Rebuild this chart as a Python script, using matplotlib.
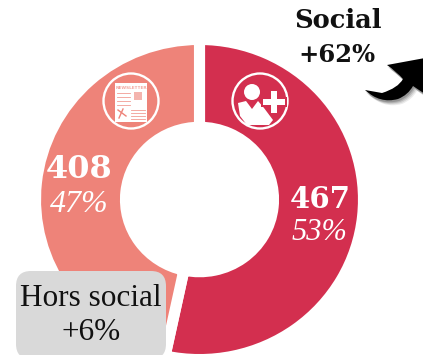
import matplotlib
matplotlib.use("Agg")
import matplotlib.pyplot as plt
from matplotlib.patches import Circle, FancyBboxPatch, PathPatch, Polygon, Rectangle
from matplotlib.path import Path

W, H = 423, 355
SERIF = "Liberation Serif"
SERIF_BOLD = "DejaVu Serif"

# data
categories = ["Social", "Hors social"]
values = [467, 408]
shares = ["53%", "47%"]
growth = ["+62%", "+6%"]
colors = ["#d32f4f", "#ee8379"]


def y_(y):
    # picture coordinates run downwards
    return H - y


def draw_newsletter(ax):
    ax.add_patch(Circle((131, y_(101)), 27.5, fc="none", ec="white", lw=1.7))
    ax.add_patch(Rectangle((115, y_(122)), 32, 39, fc="white", ec="none"))
    ax.text(131, y_(88), "NEWSLETTER", fontsize=3.1, fontweight="bold", color=colors[1],
            ha="center", va="center", family="DejaVu Sans", alpha=0.7)
    for y in (93, 97, 101, 105):
        ax.plot([117, 130], [y_(y), y_(y)], color=colors[1], lw=0.6, alpha=0.8)
    ax.add_patch(Rectangle((134, y_(100)), 8, 8, fc=colors[1], ec="none", alpha=0.6))
    for y in (110, 113, 116, 119):
        ax.plot([131, 145], [y_(y), y_(y)], color=colors[1], lw=0.6, alpha=0.8)
    ax.plot([118, 126], [y_(110), y_(116)], color=colors[1], lw=1)
    ax.plot([119, 123], [y_(118), y_(109)], color=colors[1], lw=1)


def draw_person(ax):
    ax.add_patch(Circle((260, y_(101)), 27.5, fc="none", ec="white", lw=1.7))
    ax.add_patch(Circle((252, y_(92)), 8, fc="white", ec="none"))
    body = [(238, 103), (246, 101), (252, 109), (258, 101), (264, 108), (273, 120),
            (269, 125), (247, 125), (240, 116)]
    ax.add_patch(Polygon([(x, y_(y)) for x, y in body], fc="white", ec="none"))
    ax.add_patch(Rectangle((269, y_(115)), 10, 26, fc=colors[0], ec="none"))
    ax.add_patch(Rectangle((261, y_(107)), 26, 10, fc=colors[0], ec="none"))
    ax.add_patch(Rectangle((271, y_(113)), 6, 22, fc="white", ec="none"))
    ax.add_patch(Rectangle((263, y_(105)), 22, 6, fc="white", ec="none"))


def arrow_path(dx=0, dy=0):
    codes = [Path.MOVETO, Path.CURVE3, Path.CURVE3, Path.CURVE3, Path.CURVE3,
             Path.LINETO, Path.LINETO, Path.LINETO, Path.CURVE3, Path.CURVE3,
             Path.CURVE3, Path.CURVE3, Path.CLOSEPOLY]
    pts = [(365, 90), (380, 104), (398, 99), (408, 95), (413, 86),
           (425, 94), (425, 58), (387, 65), (397, 72), (403, 79),
           (398, 88), (382, 93), (365, 90)]
    return Path([(x + dx, y_(y + dy)) for x, y in pts], codes)


fig = plt.figure(figsize=(W / 100, H / 100), dpi=100)

# the ring is very slightly squashed in the original, hence its own axes
pie_ax = fig.add_axes([0, 0, 1, 1])
squash = 0.976
pie_ax.pie(values, colors=colors, startangle=90, counterclock=False,
           center=(0, 0), radius=164, frame=True,
           wedgeprops=dict(width=90, edgecolor="white", linewidth=8))
pie_ax.set_xlim(-199.5, W - 199.5)
pie_ax.set_ylim(-(H - 199.5) / squash, 199.5 / squash)
pie_ax.set_aspect("auto")
pie_ax.axis("off")

ax = fig.add_axes([0, 0, 1, 1])
ax.set_xlim(0, W)
ax.set_ylim(0, H)
ax.patch.set_alpha(0)
ax.axis("off")

draw_newsletter(ax)
draw_person(ax)

# arrow, soft shadow first
for off, alpha in ((5, 0.08), (4, 0.10), (3, 0.14), (2, 0.18)):
    ax.add_patch(PathPatch(arrow_path(off - 1, off), fc="black", ec="none", alpha=alpha))
ax.add_patch(PathPatch(arrow_path(), fc="black", ec="none"))

ax.add_patch(FancyBboxPatch((16, y_(355) - 4), 150, 88, boxstyle="round,pad=0,rounding_size=15",
                            fc="#d9d9d9", ec="none"))

ax.text(338, y_(21), categories[0], family=SERIF_BOLD, fontweight="bold", fontsize=18.5,
        ha="center", va="center", color="#111111")
ax.text(337, y_(55), growth[0], family=SERIF_BOLD, fontweight="bold", fontsize=17.5,
        ha="center", va="center", color="#111111")
ax.text(91, y_(298), categories[1], family=SERIF, fontsize=22.5, ha="center", va="center",
        color="#111111")
ax.text(91, y_(333), growth[1], family=SERIF, fontsize=22.5, ha="center", va="center",
        color="#111111")

ax.text(320, y_(199), str(values[0]), family=SERIF_BOLD, fontweight="bold", fontsize=21,
        ha="center", va="center", color="white")
ax.text(319, y_(232), shares[0], family=SERIF, style="italic", fontsize=22,
        ha="center", va="center", color="white")
ax.text(79, y_(170), str(values[1]), family=SERIF_BOLD, fontweight="bold", fontsize=23,
        ha="center", va="center", color="white")
ax.text(79, y_(205), shares[1], family=SERIF, style="italic", fontsize=23,
        ha="center", va="center", color="white")

fig.savefig("out.png", dpi=100)
